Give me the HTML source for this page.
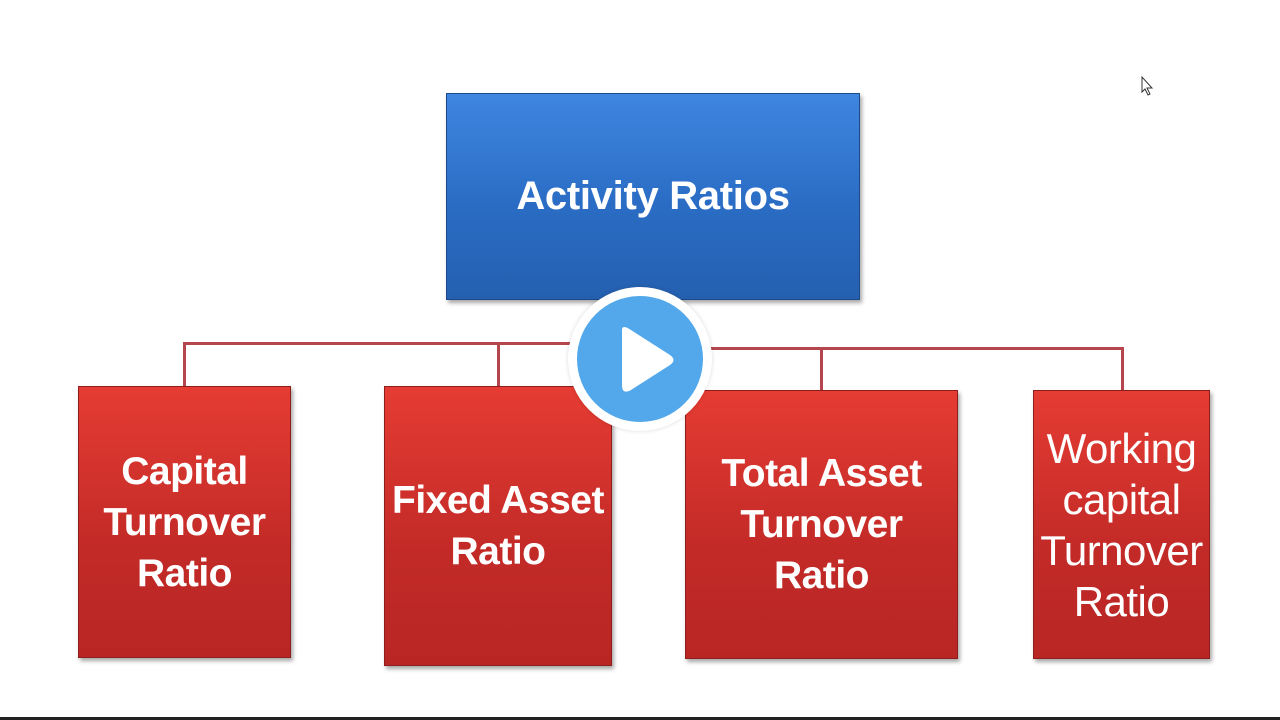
<!DOCTYPE html>
<html><head><meta charset="utf-8"><style>
html,body{margin:0;padding:0;width:1280px;height:720px;background:#fff;overflow:hidden;position:relative;font-family:"Liberation Sans",sans-serif}
.b{position:absolute;display:flex;align-items:center;justify-content:center;text-align:center;color:#fff;font-weight:bold;box-sizing:border-box;box-shadow:2px 3px 4px rgba(0,0,0,.35)}
.r{background:linear-gradient(#e53c33,#c22a27 60%,#b82624);border:1px solid #8e1e1c;font-size:39px;line-height:51px;letter-spacing:-0.5px}
.l{position:absolute;background:#b5464d}
</style></head><body>
<div class="b" style="left:446px;top:93px;width:414px;height:207px;background:linear-gradient(#3f86e0,#2a6cc4 55%,#2560b0);border:1px solid #1d4b8a;font-size:40px;letter-spacing:-0.3px">Activity Ratios</div>
<div class="l" style="left:183px;top:342px;width:390px;height:3px"></div>
<div class="l" style="left:183px;top:342px;width:3px;height:44px"></div>
<div class="l" style="left:497px;top:342px;width:3px;height:44px"></div>
<div class="l" style="left:708px;top:347px;width:416px;height:3px"></div>
<div class="l" style="left:820px;top:347px;width:3px;height:43px"></div>
<div class="l" style="left:1121px;top:347px;width:3px;height:43px"></div>
<div class="b r" style="left:78px;top:386px;width:213px;height:272px">Capital<br>Turnover<br>Ratio</div>
<div class="b r" style="left:384px;top:386px;width:228px;height:280px;white-space:nowrap">Fixed Asset<br>Ratio</div>
<div class="b r" style="left:685px;top:390px;width:273px;height:269px">Total Asset<br>Turnover<br>Ratio</div>
<div class="b r" style="left:1033px;top:390px;width:177px;height:269px;font-weight:normal;font-size:42px;white-space:nowrap">Working<br>capital<br>Turnover<br>Ratio</div>
<div style="position:absolute;left:568px;top:287px;width:144px;height:144px;border-radius:50%;background:#fff;box-shadow:0 0 4px rgba(0,0,0,.15)"></div>
<div style="position:absolute;left:577px;top:296px;width:126px;height:126px;border-radius:50%;background:#52a8ea"></div>
<svg style="position:absolute;left:0;top:0" width="1280" height="720"><path d="M622 330 L622 385 Q622 395 631 390 L670 365 Q677 360 670 355 L631 330 Q622 324 622 330Z" fill="#fff"/>
<path d="M1142 77 L1142 92 L1145 89 L1148 95 L1150 94 L1147 88 L1152 88 Z" fill="#fff" stroke="#333" stroke-width="1"/></svg>
<div style="position:absolute;left:0;top:717px;width:1280px;height:3px;background:#222"></div>
</body></html>
